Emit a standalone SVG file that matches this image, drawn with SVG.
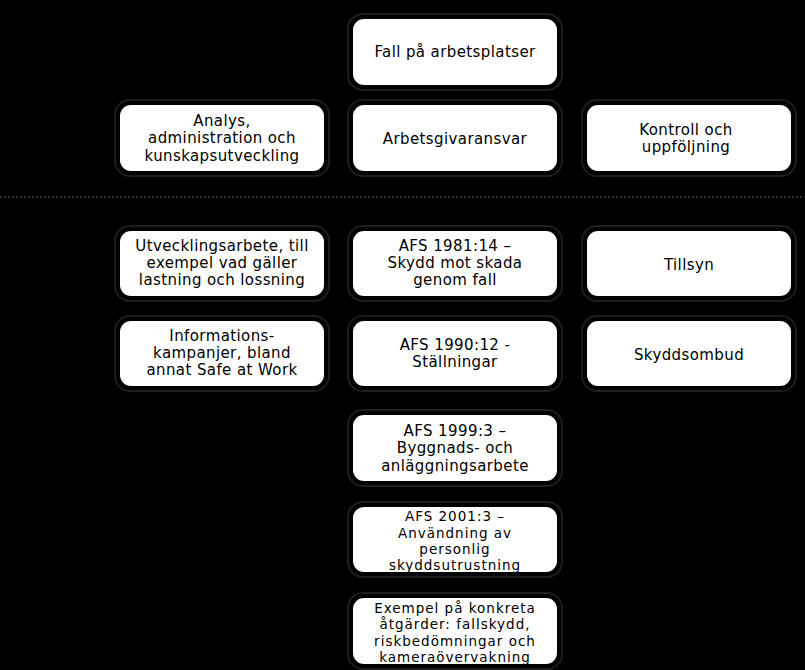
<svg xmlns="http://www.w3.org/2000/svg" width="805" height="670" viewBox="0 0 805 670">
<style>
.bg{fill:#000}
.box{fill:#fff;stroke:#000;stroke-width:2}
.ring{fill:none;stroke:#1e1e1e;stroke-width:2}
.t{font-family:"DejaVu Sans",Verdana,sans-serif;font-size:15px;letter-spacing:0.4px;fill:#000;text-anchor:middle}
.t4{font-family:"DejaVu Sans",Verdana,sans-serif;font-size:13.5px;letter-spacing:1px;fill:#000;text-anchor:middle}
.side{font-family:"DejaVu Sans",Verdana,sans-serif;font-size:26px;fill:#000;text-anchor:middle}
.sep{stroke:#2c2c2c;stroke-width:2;stroke-dasharray:2 2}
</style>
<rect class="bg" x="0" y="0" width="805" height="670"/>
<g id="labels">
<text class="side" transform="translate(33,77) rotate(-90)">Område</text>
<text class="side" transform="translate(33,324) rotate(-90)">Aktiviteter</text>
</g>
<g id="connectors">
<line class="sep" x1="0" y1="197" x2="805" y2="197"/>
</g>
<g id="n1"><rect class="ring" x="348" y="14" width="214" height="76" rx="15"/><rect class="box" x="352" y="18" width="206" height="68" rx="12"/><text class="t" x="455" y="57">Fall på arbetsplatser</text></g>
<g id="n2"><rect class="ring" x="115" y="100" width="214" height="76" rx="15"/><rect class="box" x="119" y="104" width="206" height="68" rx="12"/><text class="t" x="222" y="126">Analys,</text><text class="t" x="222" y="143">administration och</text><text class="t" x="222" y="161">kunskapsutveckling</text></g>
<g id="n3"><rect class="ring" x="348" y="100" width="214" height="76" rx="15"/><rect class="box" x="352" y="104" width="206" height="68" rx="12"/><text class="t" x="455" y="144">Arbetsgivaransvar</text></g>
<g id="n4"><rect class="ring" x="582" y="100" width="214" height="76" rx="15"/><rect class="box" x="586" y="104" width="206" height="68" rx="12"/><text class="t" x="686" y="135">Kontroll och</text><text class="t" x="686" y="152">uppföljning</text></g>
<g id="n5"><rect class="ring" x="115" y="226" width="214" height="75" rx="15"/><rect class="box" x="119" y="230" width="206" height="67" rx="12"/><text class="t" x="222" y="251">Utvecklingsarbete, till</text><text class="t" x="222" y="268">exempel vad gäller</text><text class="t" x="222" y="285">lastning och lossning</text></g>
<g id="n6"><rect class="ring" x="348" y="226" width="214" height="75" rx="15"/><rect class="box" x="352" y="230" width="206" height="67" rx="12"/><text class="t" x="455" y="251">AFS 1981:14 –</text><text class="t" x="455" y="268">Skydd mot skada</text><text class="t" x="455" y="285">genom fall</text></g>
<g id="n7"><rect class="ring" x="582" y="226" width="214" height="75" rx="15"/><rect class="box" x="586" y="230" width="206" height="67" rx="12"/><text class="t" x="689" y="270">Tillsyn</text></g>
<g id="n8"><rect class="ring" x="115" y="316" width="214" height="75" rx="15"/><rect class="box" x="119" y="320" width="206" height="67" rx="12"/><text class="t" x="222" y="341">Informations-</text><text class="t" x="222" y="358">kampanjer, bland</text><text class="t" x="222" y="375">annat Safe at Work</text></g>
<g id="n9"><rect class="ring" x="348" y="316" width="214" height="75" rx="15"/><rect class="box" x="352" y="320" width="206" height="67" rx="12"/><text class="t" x="455" y="350">AFS 1990:12 -</text><text class="t" x="455" y="367">Ställningar</text></g>
<g id="n10"><rect class="ring" x="582" y="316" width="214" height="75" rx="15"/><rect class="box" x="586" y="320" width="206" height="67" rx="12"/><text class="t" x="689" y="360">Skyddsombud</text></g>
<g id="n11"><rect class="ring" x="348" y="410" width="214" height="76" rx="15"/><rect class="box" x="352" y="414" width="206" height="68" rx="12"/><text class="t" x="455" y="436">AFS 1999:3 –</text><text class="t" x="455" y="453">Byggnads- och</text><text class="t" x="455" y="471">anläggningsarbete</text></g>
<g id="n12"><rect class="ring" x="348" y="502" width="214" height="75" rx="15"/><rect class="box" x="352" y="506" width="206" height="67" rx="12"/><text class="t4" x="455" y="521">AFS 2001:3 –</text><text class="t4" x="455" y="538">Användning av</text><text class="t4" x="455" y="554">personlig</text><text class="t4" x="455" y="570">skyddsutrustning</text></g>
<g id="n13"><rect class="ring" x="348" y="593" width="214" height="76" rx="15"/><rect class="box" x="352" y="597" width="206" height="68" rx="12"/><text class="t4" x="455" y="613">Exempel på konkreta</text><text class="t4" x="455" y="629">åtgärder: fallskydd,</text><text class="t4" x="455" y="646">riskbedömningar och</text><text class="t4" x="455" y="662">kameraövervakning</text></g>
</svg>
